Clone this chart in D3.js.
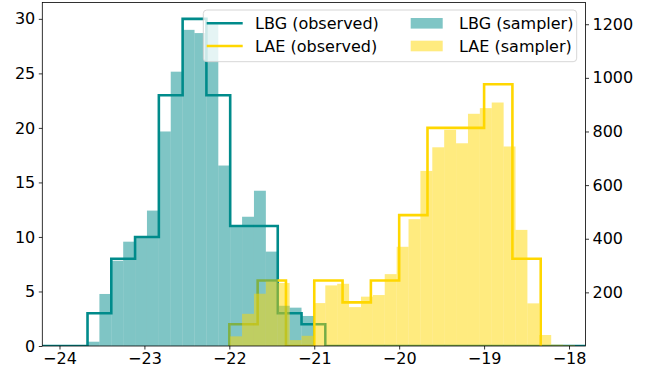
<!DOCTYPE html>
<html lang="en"><head><meta charset="UTF-8">
<script src="https://d3js.org/d3.v7.min.js"></script>
<style>
  body { margin: 0; background: #ffffff; }
  #histchart { position: absolute; left: 0; top: 0; width: 659px; height: 374px; }
</style>
</head>
<body>
<div id="histchart"></div>
<script>
// observed histograms (left axis, counts)
const lbgObsStart = -23.67;
const lbgObsWidth = 0.28;
const lbgObsCounts = [3, 8, 10, 23, 30, 23, 11, 11, 3, 2];

const laeObsStart = -22;
const laeObsWidth = 1 / 3;
const laeObsCounts = [2, 6, 0, 6, 4, 6, 12, 20, 20, 24, 8];

// sampler histograms (right axis), common bin width
const samplerWidth = 0.14;
const lbgSamplerStart = -23.67;
const lbgSampler = [16, 194, 318, 389, 408, 505, 800, 1023, 1179, 1167, 1200, 673,
                    450, 482, 579, 352, 150, 143, 112];
const laeSamplerStart = -21.99;
const laeSampler = [36, 120, 195, 240, 235, 22, 38, 160, 226, 232, 145, 184, 190, 268,
                    370, 473, 653, 741, 806, 756, 866, 887, 908, 744, 433, 159, 41, 5, 3];

const xTicks = [-24, -23, -22, -21, -20, -19, -18];
const leftTicks = [0, 5, 10, 15, 20, 25, 30];
const rightTicks = [200, 400, 600, 800, 1000, 1200];

const legendLabels = ["LBG (observed)", "LAE (observed)", "LBG (sampler)", "LAE (sampler)"];
const lbgColor = "#008b8b";
const laeColor = "#ffd700";

function drawHist() {
  const width = 659, height = 374;
  const marginLeft = 42.3, marginRight = 73.5, marginTop = 2.5, marginBottom = 28;
  const font = "'DejaVu Sans', sans-serif";
  const fmt = d3.format("d");

  const x = d3.scaleLinear([-24.2025, -17.806], [marginLeft, width - marginRight]);
  const yL = d3.scaleLinear([0, 31.5], [height - marginBottom, marginTop]);
  const yR = d3.scaleLinear([0, 1281], [height - marginBottom, marginTop]);

  const svg = d3.select("#histchart")
    .append("svg")
    .attr("width", width)
    .attr("height", height)
    .attr("viewBox", [0, 0, width, height]);

  svg.append("defs").append("clipPath")
    .attr("id", "plotclip")
    .append("rect")
    .attr("x", marginLeft)
    .attr("y", marginTop)
    .attr("width", width - marginRight - marginLeft)
    .attr("height", height - marginBottom - marginTop);

  const plot = svg.append("g").attr("clip-path", "url(#plotclip)");

  // step outline of a histogram, optional zero run out to the axis edges
  function stepPoints(start, w, counts, extend) {
    const pts = [];
    const end = start + w * counts.length;
    if (extend) pts.push([x.domain()[0], 0]);
    pts.push([start, 0]);
    counts.forEach((c, i) => {
      pts.push([start + i * w, c]);
      pts.push([start + (i + 1) * w, c]);
    });
    pts.push([end, 0]);
    if (extend) pts.push([x.domain()[1], 0]);
    return pts;
  }

  const line = d3.line()
    .x(d => x(d[0]))
    .y(d => yL(d[1]));

  plot.append("path")
    .attr("fill", "none")
    .attr("stroke", lbgColor)
    .attr("stroke-width", 2.6)
    .attr("stroke-linejoin", "miter")
    .attr("d", line(stepPoints(lbgObsStart, lbgObsWidth, lbgObsCounts, true)));

  plot.append("path")
    .attr("fill", "none")
    .attr("stroke", laeColor)
    .attr("stroke-width", 2.6)
    .attr("stroke-linejoin", "miter")
    .attr("d", line(stepPoints(laeObsStart, laeObsWidth, laeObsCounts, false)));

  // sampler bars on the twin axis, drawn over the observed steps
  function bars(start, values, color) {
    plot.append("g")
      .attr("fill", color)
      .attr("fill-opacity", 0.5)
      .selectAll("rect")
      .data(values)
      .join("rect")
      .attr("x", (d, i) => x(start + i * samplerWidth))
      .attr("width", (d, i) => x(start + (i + 1) * samplerWidth) - x(start + i * samplerWidth))
      .attr("y", d => yR(d))
      .attr("height", d => yR(0) - yR(d));
  }
  bars(lbgSamplerStart, lbgSampler, lbgColor);
  bars(laeSamplerStart, laeSampler, laeColor);

  // axes
  const styleAxis = g => {
    g.select(".domain").remove();
    g.selectAll(".tick line").attr("stroke", "#000").attr("stroke-width", 0.8);
    g.selectAll(".tick text").attr("fill", "#000").style("font-family", font).style("font-size", "16px");
  };

  svg.append("g")
    .attr("transform", `translate(0,${height - marginBottom})`)
    .call(d3.axisBottom(x).tickValues(xTicks).tickFormat(fmt).tickSize(3.5).tickPadding(3.5))
    .call(styleAxis);

  svg.append("g")
    .attr("transform", `translate(${marginLeft},0)`)
    .call(d3.axisLeft(yL).tickValues(leftTicks).tickFormat(fmt).tickSize(3.5).tickPadding(3.5))
    .call(styleAxis);

  svg.append("g")
    .attr("transform", `translate(${width - marginRight},0)`)
    .call(d3.axisRight(yR).tickValues(rightTicks).tickFormat(fmt).tickSize(3.5).tickPadding(3.5))
    .call(styleAxis);

  svg.append("rect")
    .attr("x", marginLeft)
    .attr("y", marginTop)
    .attr("width", width - marginRight - marginLeft)
    .attr("height", height - marginBottom - marginTop)
    .attr("fill", "none")
    .attr("stroke", "#000")
    .attr("stroke-width", 0.8);

  // legend
  const legend = svg.append("g").attr("transform", "translate(203.3,10)");
  legend.append("rect")
    .attr("width", 373.4)
    .attr("height", 51.7)
    .attr("rx", 3.5)
    .attr("fill", "#fff")
    .attr("fill-opacity", 0.8)
    .attr("stroke", "#cccccc")
    .attr("stroke-width", 0.8);

  const entries = [
    {label: legendLabels[0], color: lbgColor, kind: "line", col: 0, row: 0},
    {label: legendLabels[1], color: laeColor, kind: "line", col: 0, row: 1},
    {label: legendLabels[2], color: lbgColor, kind: "patch", col: 1, row: 0},
    {label: legendLabels[3], color: laeColor, kind: "patch", col: 1, row: 1}
  ];
  const colX = [3.4, 207.4];
  const rowY = [13.3, 36];

  entries.forEach(e => {
    const g = legend.append("g")
      .attr("transform", `translate(${colX[e.col]},${rowY[e.row]})`);
    if (e.kind === "line") {
      g.append("line")
        .attr("x1", 0).attr("x2", 36)
        .attr("stroke", e.color)
        .attr("stroke-width", 2.6);
    } else {
      g.append("rect")
        .attr("x", 0).attr("y", -5.3)
        .attr("width", 32).attr("height", 10.6)
        .attr("fill", e.color)
        .attr("fill-opacity", 0.5);
    }
    g.append("text")
      .attr("x", 48.4)
      .attr("dy", "0.36em")
      .style("font-family", font)
      .style("font-size", "16px")
      .attr("fill", "#000")
      .text(e.label);
  });
}

drawHist();
</script>
</body>
</html>
